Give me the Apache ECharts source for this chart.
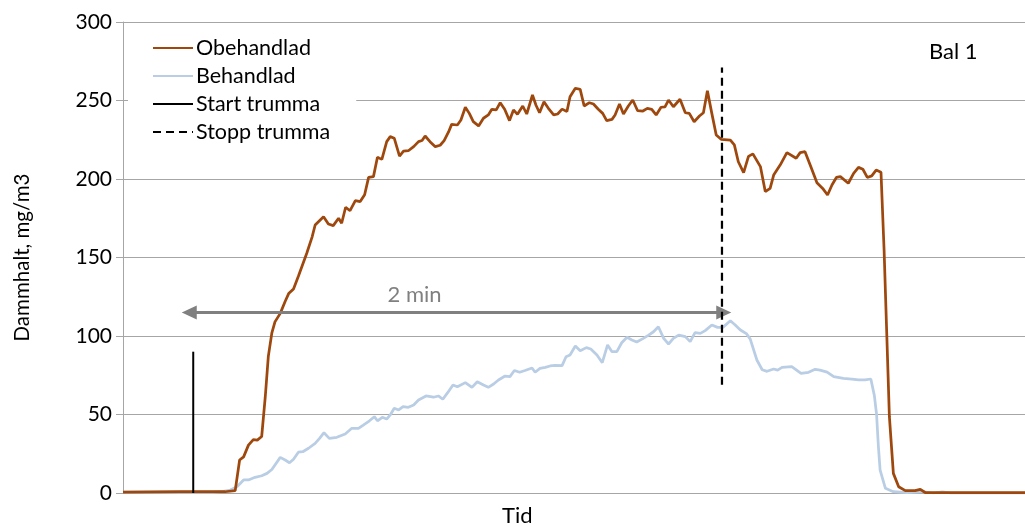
<!DOCTYPE html>
<html>
<head>
<meta charset="utf-8">
<script src="https://cdn.jsdelivr.net/npm/echarts@6/dist/echarts.min.js"></script>
<style>
  html, body { margin: 0; padding: 0; background: #fff; }
  #chart { width: 1025px; height: 527px; }
</style>
</head>
<body>
<div id="chart"></div>
<script>
// Dust concentration over time (seconds), untreated vs treated bale
const obehandladTid = [0, 13, 23.1, 25.4, 26.4, 27.3, 28.4, 29.5, 30.4, 31.4,
  32.2, 32.9, 33.7, 34.4, 35.6, 36.7, 37.5, 38.6, 39.7, 41.6,
  42.8, 43.5, 45.4, 46.5, 47.6, 48.8, 49.5, 50.4, 51.4, 52.6,
  53.7, 54.7, 55.6, 56.7, 57.6, 58.6, 59.7, 60.5, 61.4, 62.6,
  63.5, 64.6, 65.8, 66.9, 67.7, 68.4, 69.5, 70.7, 71.8, 72.7,
  73.7, 74.4, 75.7, 76.5, 77.5, 78.4, 79.3, 80.5, 81.6, 82.7,
  83.5, 84.5, 85.4, 86.4, 87.5, 88.4, 89.3, 90.5, 91.4, 92.7,
  93.5, 94.3, 95.3, 96.3, 97.5, 98.4, 99.4, 100.5, 101.2, 102.4,
  103.5, 104.4, 105.6, 106.5, 107.6, 108.6, 109.5, 110.7, 111.4, 112.4,
  113.3, 114.4, 115.4, 116.5, 117.7, 118.7, 119.7, 120.7, 121.8, 122.7,
  123.5, 124.6, 126.1, 127.3, 128.2, 129.3, 130.5, 131.4, 132.3, 133.3,
  134.3, 135.4, 137.5, 138.4, 139.3, 140.5, 141.6, 142.6, 144.3, 145.4,
  146.5, 147.3, 148.8, 150.3, 152.4, 153.3, 154.4, 155.7, 157.1, 158.4,
  159.5, 160.5, 161.5, 162.4, 164.2, 165.4, 166.5, 167.5, 168.5, 169.5,
  170.5, 171.6, 172.3, 172.9, 173.5, 174.4, 175.6, 177.1, 179.3, 180.5,
  181.6, 204.2];
const obehandlad = [0.5, 0.8, 0.8, 1.5, 21, 23, 30.5, 34, 33.7, 36,
  61, 87, 102, 109, 114.4, 122, 127, 130, 138, 152.7,
  163, 170.7, 176, 171.3, 170.3, 175, 171.8, 182, 179.8, 186.2,
  185.6, 190, 201, 201.5, 213.8, 212.5, 223.8, 227, 226, 214.6,
  217.8, 218, 220.6, 223.8, 224.5, 227.4, 223.8, 220.6, 221.5, 224.4,
  230, 234.8, 234.4, 237.6, 245.7, 241.8, 236.5, 233.8, 238.7, 240.8,
  244.4, 244, 248.6, 244.4, 237.2, 244, 241.2, 246.5, 241.4, 253.5,
  247, 242.2, 249.2, 245, 240.8, 241.4, 244.5, 243, 252.4, 257.8,
  257.1, 246.5, 248.6, 247.8, 244.4, 241.8, 237.2, 238, 240.8, 247.8,
  241.4, 246.5, 250.3, 243.5, 243.3, 245, 244.4, 240.8, 245.7, 246,
  250.3, 246, 250.8, 242.2, 241.8, 236.5, 240.1, 242.2, 256.2, 241.8,
  228, 225.3, 224.8, 221.7, 211, 204, 214.4, 216, 207.9, 192,
  194, 202.5, 209, 216.8, 213.2, 216.8, 217.4, 207.9, 197.6, 194,
  189.8, 196.2, 201, 201.5, 197.3, 203.6, 207.4, 206.2, 201, 202,
  205.7, 204.3, 154.8, 101.7, 48.6, 12.5, 4, 1.5, 1.5, 2.3,
  0.3, 0.3];

const behandladTid = [0, 20.4, 22.7, 24.3, 25.8, 27.3, 28.4, 29.9, 31.4, 32.6,
  33.7, 35.6, 36.7, 37.7, 38.6, 39.7, 40.7, 42.0, 43.5, 44.5,
  45.5, 46.7, 48.4, 50.3, 51.8, 53.3, 54.4, 55.8, 56.9, 57.6,
  58.7, 59.7, 60.5, 61.4, 62.4, 63.4, 64.6, 65.8, 66.9, 68.6,
  70.3, 71.4, 72.4, 73.5, 74.7, 75.7, 77.5, 79.0, 80.2, 81.6,
  82.7, 83.9, 85.0, 86.5, 87.6, 88.6, 89.8, 91.0, 92.6, 93.3,
  94.4, 95.6, 96.7, 97.8, 99.4, 100.3, 101.2, 102.4, 103.5, 104.9,
  105.9, 107.3, 108.5, 109.7, 110.7, 111.8, 112.9, 114.1, 115.2, 116.3,
  117.8, 119.0, 120.1, 121.2, 122.4, 123.5, 124.6, 125.8, 127.3, 128.4,
  129.5, 130.7, 131.8, 133.3, 134.6, 135.8, 137.5, 138.6, 139.7, 141.2,
  142.0, 143.5, 144.7, 145.8, 147.3, 148.2, 149.2, 151.4, 153.5, 155.2,
  156.7, 157.8, 159.4, 160.9, 163.1, 165.0, 166.5, 168.0, 169.3, 170.1,
  170.6, 171.0, 171.4, 172.6, 174.4, 177.5, 181.2, 183.5, 185.5, 187.3,
  204.2];
const behandlad = [0.5, 0.5, 1, 1.9, 4, 8.3, 8.3, 10, 11, 12.5,
  15, 22.7, 21, 19.3, 21.5, 26, 26.3, 28.5, 31.6, 34.8,
  38.4, 34.8, 35.5, 37.6, 41.2, 41.2, 43.3, 46, 48.6, 46,
  48.2, 47.1, 49.7, 54, 52.9, 55, 54.6, 56, 59.2, 61.8,
  61, 61.8, 59.7, 63.9, 68.8, 67.7, 70.3, 67.3, 70.9, 68.8,
  67.3, 69.4, 72, 74.5, 74.1, 78, 76.9, 78, 79.6, 76.9,
  79.4, 80, 80.9, 81.3, 81.1, 86.8, 87.9, 93.6, 90.6, 92.6,
  91.7, 87.9, 83, 94.3, 90, 90, 95.7, 99.2, 97.5, 96.2,
  98.5, 100.6, 102.7, 105.9, 98.5, 94.9, 98.5, 100.6, 99.6, 96.4,
  102.1, 101.7, 103.4, 107, 105.5, 105.5, 109.7, 107, 104, 101.3,
  98, 84.7, 78.5, 77.5, 79, 78.3, 80, 80.5, 76.2, 76.9,
  78.8, 78.3, 77, 74.1, 73, 72.6, 72, 72, 72.6, 62,
  50, 30, 14.6, 3, 0.8, 0.2, 0.8, 0, 0.8, 0,
  0];

// Drum start / stop markers: [time, value]
const startTrumma = [[15.9, 0], [15.9, 90]];
const stoppTrumma = [[135.6, 69], [135.6, 271]];
// Two-minute span arrow
const spanStart = 15.0, spanEnd = 136.0, spanLevel = 115, spanLabelAt = 66;

const yTicks = { min: 0, max: 300, interval: 50 };
const xRange = { min: 0, max: 204.2 };

const zip = (t, v) => t.map((x, i) => [x, v[i]]);

const FONT = 'Lato';
const GRID_COLOR = '#a6a6a6';

const chart = echarts.init(document.getElementById('chart'), null, { renderer: 'canvas' });
chart.setOption({
  animation: false,
  backgroundColor: '#fff',
  textStyle: { fontFamily: FONT },
  grid: { left: 123, right: 0, top: 22, bottom: 34, containLabel: false },
  legend: {
    data: ['Obehandlad', 'Behandlad', 'Start trumma', 'Stopp trumma'],
    orient: 'vertical',
    left: 128, top: 33,
    padding: [4, 26, 6, 24],
    backgroundColor: '#fff',
    itemWidth: 40, itemHeight: 14, itemGap: 6,
    itemStyle: { opacity: 0 },
    textStyle: { fontFamily: FONT, fontSize: 21.5, color: '#000', padding: [0, 0, 0, -2] },
    selectedMode: false
  },
  xAxis: {
    type: 'value', min: xRange.min, max: xRange.max,
    axisLine: { show: true, lineStyle: { color: GRID_COLOR, width: 1 } },
    axisTick: { show: false }, axisLabel: { show: false }, splitLine: { show: false }
  },
  yAxis: {
    type: 'value', min: yTicks.min, max: yTicks.max, interval: yTicks.interval,
    name: 'Dammhalt, mg/m3', nameLocation: 'middle', nameGap: 90,
    nameTextStyle: { fontFamily: FONT, fontSize: 20.5, color: '#000' },
    axisLine: { show: true, lineStyle: { color: GRID_COLOR, width: 1 } },
    axisTick: { show: true, inside: false, length: 7, lineStyle: { color: GRID_COLOR } },
    axisLabel: { fontFamily: FONT, fontSize: 21, color: '#000', margin: 11 },
    splitLine: { show: true, lineStyle: { color: GRID_COLOR, width: 1 } }
  },
  graphic: [
    { type: 'text', left: 929, top: 41, style: { text: 'Bal 1', fontFamily: FONT, fontSize: 22, fill: '#000' } },
    { type: 'text', left: 502, top: 505, style: { text: 'Tid', fontFamily: FONT, fontSize: 22, fill: '#000' } }
  ],
  series: [
    {
      name: 'Obehandlad', type: 'line', z: 4, showSymbol: false, symbol: 'none',
      data: zip(obehandladTid, obehandlad),
      lineStyle: { color: '#9e480e', width: 2.75 }, itemStyle: { color: '#9e480e' }
    },
    {
      name: 'Behandlad', type: 'line', z: 3, showSymbol: false, symbol: 'none',
      data: zip(behandladTid, behandlad),
      lineStyle: { color: '#b9cde5', width: 2.75 }, itemStyle: { color: '#b9cde5' }
    },
    {
      name: 'Start trumma', type: 'line', z: 5, showSymbol: false, symbol: 'none',
      data: startTrumma,
      lineStyle: { color: '#000', width: 2 }, itemStyle: { color: '#000' }
    },
    {
      name: 'Stopp trumma', type: 'line', z: 5, showSymbol: false, symbol: 'none',
      data: stoppTrumma,
      lineStyle: { color: '#000', width: 2.25, type: [8, 5] }, itemStyle: { color: '#000' }
    },
    {
      name: 'span', type: 'line', data: [], z: 6, silent: true,
      markLine: {
        silent: true, animation: false,
        symbol: ['triangle', 'triangle'], symbolSize: [14, 15],
        lineStyle: { color: '#808080', width: 3, type: 'solid' },
        label: { show: false },
        data: [[{ coord: [spanStart, spanLevel] }, { coord: [spanEnd, spanLevel] }]]
      },
      markPoint: {
        silent: true, animation: false,
        symbol: 'circle', symbolSize: 1, itemStyle: { color: 'rgba(0,0,0,0)' },
        label: { show: true, position: 'top', distance: 6, formatter: '2 min',
          fontFamily: FONT, fontSize: 22, color: '#808080' },
        data: [{ coord: [spanLabelAt, spanLevel] }]
      }
    }
  ]
});
</script>
</body>
</html>
